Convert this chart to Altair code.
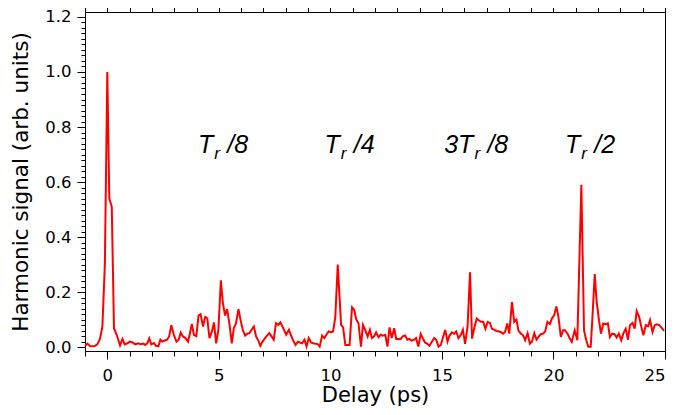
import altair as alt
import pandas as pd

delay = [-1.0, -0.89, -0.78, -0.67, -0.56, -0.45, -0.33, -0.22, -0.11, 0.0, 0.09, 0.2, 0.3, 0.42, 0.57, 0.68, 0.78, 0.9,
         1.01, 1.13, 1.25, 1.38, 1.49, 1.61, 1.7, 1.79, 1.88, 1.97, 2.09, 2.18, 2.29, 2.38, 2.47, 2.57, 2.68, 2.77, 2.87,
         2.98, 3.1, 3.2, 3.29, 3.39, 3.51, 3.62, 3.69, 3.79, 3.88, 3.99, 4.09, 4.18, 4.29, 4.39, 4.48, 4.58, 4.69, 4.78,
         4.88, 4.98, 5.09, 5.18, 5.28, 5.37, 5.48, 5.58, 5.67, 5.77, 5.88, 5.97, 6.07, 6.18, 6.27, 6.37, 6.47, 6.57, 6.67,
         6.77, 6.86, 6.96, 7.07, 7.16, 7.26, 7.36, 7.46, 7.56, 7.66, 7.76, 7.88, 8.02, 8.14, 8.24, 8.33, 8.44, 8.54, 8.63,
         8.73, 8.84, 8.93, 9.03, 9.13, 9.23, 9.33, 9.43, 9.52, 9.63, 9.73, 9.82, 9.92, 10.03, 10.12, 10.22, 10.33, 10.48,
         10.57, 10.67, 10.77, 10.86, 10.97, 11.07, 11.16, 11.26, 11.37, 11.46, 11.56, 11.67, 11.77, 11.86, 11.96, 12.05,
         12.16, 12.26, 12.35, 12.46, 12.56, 12.65, 12.75, 12.86, 12.95, 13.05, 13.15, 13.24, 13.35, 13.45, 13.54, 13.64,
         13.75, 13.84, 13.94, 14.05, 14.14, 14.24, 14.35, 14.44, 14.55, 14.65, 14.74, 14.85, 14.95, 15.04, 15.15, 15.25,
         15.34, 15.45, 15.55, 15.64, 15.74, 15.85, 15.94, 16.04, 16.15, 16.26, 16.35, 16.46, 16.56, 16.65, 16.75, 16.85,
         16.95, 17.05, 17.15, 17.24, 17.34, 17.44, 17.53, 17.63, 17.74, 17.83, 17.93, 18.02, 18.14, 18.24, 18.34, 18.43,
         18.54, 18.64, 18.73, 18.84, 18.94, 19.03, 19.14, 19.24, 19.33, 19.43, 19.54, 19.63, 19.73, 19.84, 19.93, 20.03,
         20.13, 20.22, 20.33, 20.43, 20.52, 20.63, 20.73, 20.82, 20.95, 21.07, 21.25, 21.37, 21.47, 21.56, 21.67, 21.74,
         21.85, 21.93, 22.04, 22.13, 22.23, 22.34, 22.44, 22.53, 22.63, 22.74, 22.83, 22.93, 23.04, 23.13, 23.24, 23.34,
         23.43, 23.54, 23.64, 23.73, 23.84, 23.94, 24.03, 24.14, 24.24, 24.33, 24.44, 24.54, 24.63, 24.74, 24.84, 24.96]

signal = [0.004, 0.013, 0.004, 0.003, 0.004, 0.01, 0.03, 0.075, 0.3, 1.0, 0.54, 0.51, 0.068, 0.045, 0.006, 0.03, 0.01, 0.014,
          0.02, 0.017, 0.01, 0.014, 0.011, 0.013, 0.008, 0.014, 0.032, 0.01, 0.015, 0.005, 0.003, 0.027, 0.02, 0.024, 0.027, 0.039, 0.08,
          0.045, 0.02, 0.027, 0.053, 0.039, 0.033, 0.02, 0.045, 0.084, 0.045, 0.04, 0.115, 0.12, 0.075, 0.11, 0.105, 0.033, 0.057, 0.09,
          0.014, 0.063, 0.243, 0.16, 0.115, 0.138, 0.081, 0.014, 0.069, 0.087, 0.138, 0.1, 0.063, 0.042, 0.049, 0.051, 0.063, 0.075, 0.039,
          0.024, 0.005, 0.02, 0.033, 0.042, 0.051, 0.039, 0.027, 0.087, 0.081, 0.09, 0.07, 0.045, 0.063, 0.042, 0.024, 0.008, 0.02, 0.017,
          0.014, 0.027, 0.002, 0.033, 0.017, 0.014, 0.012, 0.011, 0.002, 0.042, 0.033, 0.045, 0.057, 0.054, 0.057, 0.108, 0.3, 0.081,
          0.072, 0.008, 0.008, 0.008, 0.145, 0.135, 0.1, 0.087, 0.002, 0.081, 0.063, 0.039, 0.063, 0.033, 0.039, 0.054,
          0.036, 0.045, 0.042, 0.045, 0.002, 0.072, 0.033, 0.069, 0.03, 0.03, 0.03, 0.039, 0.042, 0.027, 0.03, 0.024,
          0.027, 0.033, 0.002, 0.048, 0.033, 0.017, 0.012, 0.005, 0.02, 0.033, 0.027, 0.002, 0.008, 0.033, 0.063, 0.02,
          0.042, 0.054, 0.048, 0.057, 0.033, 0.045, 0.063, 0.012, 0.075, 0.272, 0.031, 0.073, 0.104, 0.098, 0.092, 0.092,
          0.067, 0.092, 0.088, 0.067, 0.064, 0.059, 0.058, 0.055, 0.049, 0.055, 0.086, 0.049, 0.164, 0.092, 0.1, 0.06,
          0.049, 0.043, 0.025, 0.051, 0.013, 0.019, 0.051, 0.027, 0.037, 0.047, 0.049, 0.058, 0.092, 0.084, 0.104, 0.116,
          0.148, 0.112, 0.037, 0.061, 0.061, 0.049, 0.031, 0.019, 0.061, 0.025, 0.59, 0.061, 0.025, 0.001, 0.001, 0.098,
          0.266, 0.17, 0.098, 0.049, 0.086, 0.083, 0.086, 0.037, 0.049, 0.047, 0.035, 0.049, 0.025, 0.049, 0.067, 0.027,
          0.08, 0.088, 0.067, 0.131, 0.11, 0.073, 0.043, 0.08, 0.076, 0.098, 0.055, 0.08, 0.083, 0.08, 0.071, 0.059]

# annotation labels: prefix + "T", subscript "r", then "/n"
ann_prefix = ["T", "T", "3T", "T"]
ann_tail = ["/8", "/4", "/8", "/2"]
ann_x = [4.75, 10.42, 16.41, 21.2]
ann_y = [0.705, 0.705, 0.705, 0.705]

x_major = [0, 5, 10, 15, 20, 25]
x_minor = list(range(-1, 26))
y_major = [0.0, 0.2, 0.4, 0.6, 0.8, 1.0, 1.2]
y_minor = [round(i * 0.02, 2) for i in range(0, 61)]

df = pd.DataFrame({"delay": delay, "signal": signal})
ann = pd.DataFrame({"x": ann_x, "y": ann_y, "pre": ann_prefix, "sub": ["r"] * 4, "tail": ann_tail})

FONT = "DejaVu Sans"
AFONT = "Liberation Sans"
xscale = alt.Scale(domain=[-1, 25], nice=False, zero=False)
yscale = alt.Scale(domain=[-0.014, 1.218], nice=False, zero=False)

common = dict(grid=False, domainColor="black", tickColor="black", tickWidth=1, domainWidth=1)

ax_bottom_major = alt.Axis(
    orient="bottom", values=x_major, title="Delay (ps)", tickSize=8, **common,
    labelFont=FONT, labelFontSize=16.5, labelColor="black", labelPadding=8, labelFlush=True,
    titleFont=FONT, titleFontSize=21, titleFontWeight="normal", titleColor="black", titlePadding=1,
)
ax_bottom_minor = alt.Axis(orient="bottom", values=x_minor, title=None, labels=False, tickSize=5, **common)
ax_top_major = alt.Axis(orient="top", values=x_major, title=None, labels=False, tickSize=8, **common)
ax_top_minor = alt.Axis(orient="top", values=x_minor, title=None, labels=False, tickSize=5, **common)
ax_left_major = alt.Axis(
    orient="left", values=y_major, format=".1f", title="Harmonic signal (arb. units)", tickSize=8, **common,
    labelFont=FONT, labelFontSize=16.5, labelColor="black", labelPadding=6, labelFlush=False, labelOverlap=False,
    titleFont=FONT, titleFontSize=21.5, titleFontWeight="normal", titleColor="black", titlePadding=12,
)
ax_left_minor = alt.Axis(orient="left", values=y_minor, title=None, labels=False, tickSize=4, **common)


def layer_with(xaxis, yaxis, visible=False):
    mark = alt.Chart(df).mark_line(color="#ff0000", strokeWidth=2) if visible else alt.Chart(df).mark_line(opacity=0)
    return mark.encode(
        x=alt.X("delay:Q", scale=xscale, axis=xaxis),
        y=alt.Y("signal:Q", scale=yscale, axis=yaxis),
    )


l_bmin = layer_with(ax_bottom_minor, ax_left_minor)
l_top_min = layer_with(ax_top_minor, None)
l_top_maj = layer_with(ax_top_major, None)
l_main = layer_with(ax_bottom_major, ax_left_major, visible=True)

base_t = alt.Chart(ann).encode(
    x=alt.X("x:Q", scale=xscale, axis=None),
    y=alt.Y("y:Q", scale=yscale, axis=None),
)
t_main = base_t.mark_text(font=AFONT, fontSize=25, fontStyle="italic", align="right", baseline="alphabetic",
                          color="black").encode(text="pre:N")
t_sub = base_t.mark_text(font=AFONT, fontSize=17, fontStyle="italic", align="left", baseline="alphabetic",
                         color="black", dx=1, dy=6).encode(text="sub:N")
t_tail = base_t.mark_text(font=AFONT, fontSize=25, fontStyle="italic", align="left", baseline="alphabetic",
                          color="black", dx=14).encode(text="tail:N")

chart = alt.layer(l_bmin, l_top_min, l_top_maj, l_main, t_main, t_sub, t_tail).resolve_axis(
    x="independent", y="independent"
).properties(
    width=580, height=339,
    autosize=alt.AutoSizeParams(type="none"),
    padding={"left": 77, "top": 4, "right": 2, "bottom": 56},
    background="white",
).configure_view(stroke="black", strokeWidth=1)

chart.save("out.html", embed_options={"renderer": "svg", "actions": False})
